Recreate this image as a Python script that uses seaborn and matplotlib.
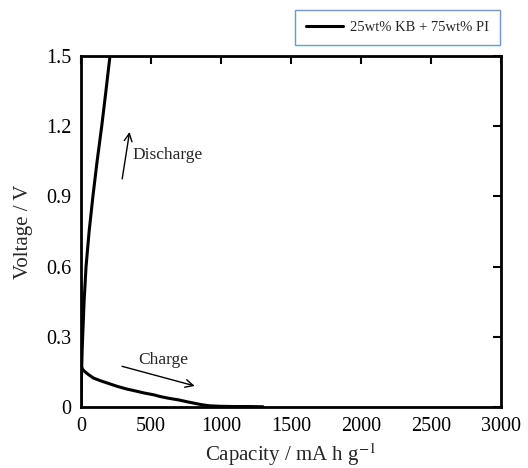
import matplotlib
matplotlib.use("Agg")
import matplotlib.pyplot as plt
import seaborn as sns
import pandas as pd

# Data
charge_cap = [0, 0, 3, 8, 20, 50, 88, 140, 200, 260, 326, 400, 450, 520, 564, 620, 700, 760, 802, 860, 920, 1000, 1100, 1200, 1300]
charge_v = [0.53, 0.19, 0.175, 0.165, 0.155, 0.14, 0.124, 0.112, 0.1, 0.088, 0.077, 0.067, 0.06, 0.052, 0.045, 0.038, 0.03, 0.022, 0.017, 0.01, 0.005, 0.003, 0.002, 0.002, 0.001]
discharge_cap = [0, 3, 8, 12, 22, 36, 58, 85, 115, 148, 178, 207]
discharge_v = [0.0, 0.12, 0.24, 0.30, 0.45, 0.60, 0.75, 0.90, 1.05, 1.20, 1.35, 1.50]
legend_label = "25wt% KB + 75wt% PI"
xticks = [0, 500, 1000, 1500, 2000, 2500, 3000]
yticks = [0, 0.3, 0.6, 0.9, 1.2, 1.5]
ytick_labels = ["0", "0.3", "0.6", "0.9", "1.2", "1.5"]

sns.set_theme(style="white")
plt.rcParams['font.family'] = ['Liberation Serif', 'DejaVu Serif']
plt.rcParams['mathtext.fontset'] = 'stix'

df_c = pd.DataFrame({"cap": charge_cap, "v": charge_v, "seg": "charge"})
df_d = pd.DataFrame({"cap": discharge_cap, "v": discharge_v, "seg": "discharge"})

fig = plt.figure(figsize=(5.28, 4.68), dpi=100)
ax = fig.add_axes([81/528, 1-407/468, 420/528, 351/468])

sns.lineplot(data=df_c, x="cap", y="v", sort=False, estimator=None, color="black",
             linewidth=2.2, ax=ax, label=legend_label)
sns.lineplot(data=df_d, x="cap", y="v", sort=False, estimator=None, color="black",
             linewidth=2.2, ax=ax)

ax.set_xlim(0, 3000)
ax.set_ylim(0, 1.5)
ax.set_xticks(xticks)
ax.set_xticklabels([str(t) for t in xticks])
ax.set_yticks(yticks)
ax.set_yticklabels(ytick_labels)
ax.tick_params(direction="in", length=6, width=1.5, top=True, right=True,
               labelsize=14.5, colors="black", pad=7)
for s in ax.spines.values():
    s.set_linewidth(2.0)
    s.set_color("black")
ax.set_xlabel("Capacity / mA h g$^{\u22121}$", fontsize=15, labelpad=4)
ax.set_ylabel("Voltage / V", fontsize=15, labelpad=9)

# Annotations
ax.annotate("", xy=(350, 1.187), xytext=(291, 0.963),
            arrowprops=dict(arrowstyle="->", color="black", lw=1.0, mutation_scale=14))
ax.text(371, 1.077, "Discharge", fontsize=12.5, va="center", ha="left")
ax.annotate("", xy=(831, 0.087), xytext=(274, 0.177),
            arrowprops=dict(arrowstyle="->", color="black", lw=1.0, mutation_scale=14))
ax.text(588, 0.201, "Charge", fontsize=12.5, va="center", ha="center")

# Legend outside axes, above top-right
handles, labels = ax.get_legend_handles_labels()
ax.get_legend().remove()
leg = fig.legend(handles, labels, loc="upper right", bbox_to_anchor=(500/528, 1-10/468),
                 fontsize=10.5, frameon=True, fancybox=False, handlelength=2.5,
                 borderpad=0.75, handletextpad=0.5, borderaxespad=0)
leg.get_frame().set_edgecolor("#4a7ebb")
leg.get_frame().set_linewidth(1.0)

fig.savefig("out.png", dpi=100)
